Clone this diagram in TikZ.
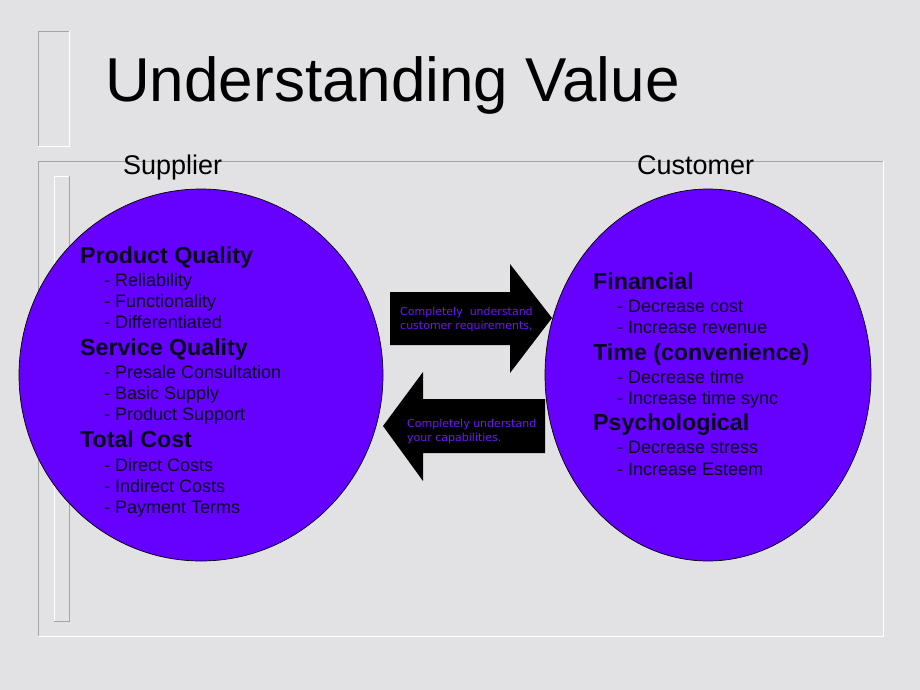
\documentclass[tikz,border=0pt]{standalone}
\usepackage{fontspec}
\setmainfont{Liberation Sans}
\newfontfamily\notefont{DejaVu Sans}
\usetikzlibrary{shapes.geometric}
\definecolor{marble}{RGB}{226,226,228}
\definecolor{edgegrey}{RGB}{165,165,165}
\definecolor{bubblefill}{RGB}{102,0,255}
\definecolor{bubbletext}{RGB}{8,0,30}
\definecolor{notetext}{RGB}{110,20,255}
\tikzset{
  bubble/.style={ellipse, draw=black, fill=bubblefill, line width=0.7pt, inner sep=0pt},
  heading/.style={anchor=base west, inner sep=0pt, text=bubbletext, font=\fontsize{23.2}{23.2}\selectfont\bfseries},
  item/.style={anchor=base west, inner sep=0pt, text=bubbletext, font=\fontsize{18}{18}\selectfont},
  side/.style={anchor=base west, inner sep=0pt, font=\fontsize{27}{27}\selectfont},
  note/.style={anchor=base west, inner sep=0pt, text=notetext, font=\notefont\fontsize{11}{11}\selectfont},
}
\begin{document}
\begin{tikzpicture}[x=1pt, y=-1pt, line join=miter]
  \fill[marble] (0,0) rectangle (920,690);
  \useasboundingbox (0,0) rectangle (920,690);
  % sunken frames
  \draw[edgegrey] (38,146) -- (38,31) -- (69,31);
  \draw[white] (69,31) -- (69,146) -- (38,146);
  \draw[edgegrey] (38,636) -- (38,161) -- (883,161);
  \draw[white] (883,161) -- (883,636) -- (38,636);
  \draw[white] (54,621) -- (54,176) -- (69,176);
  \draw[edgegrey] (69,176) -- (69,621) -- (54,621);
  % title
  \node[anchor=base west, inner sep=0pt, font=\fontsize{62}{62}\selectfont] (title) at (105,102) {Understanding Value};
  \node[side] (supplierlabel) at (123,174) {Supplier};
  \node[side] (customerlabel) at (637,174) {Customer};
  % circles
  \node[bubble, minimum width=364pt, minimum height=372pt] (supplier) at (201,375) {};
  \node[bubble, minimum width=326pt, minimum height=372pt] (customer) at (708,375) {};
  % supplier side
  \foreach \y/\t in {263/Product Quality, 355/Service Quality, 447/Total Cost}
    \node[heading] (sh\y) at (80,\y) {\t};
  \foreach \y/\t in {286/- Reliability, 307/- Functionality, 328/- Differentiated,
                     378/- Presale Consultation, 399/- Basic Supply, 420/- Product Support,
                     471/- Direct Costs, 492/- Indirect Costs, 513/- Payment Terms}
    \node[item] (si\y) at (104,\y) {\t};
  % customer side
  \foreach \y/\t in {289/Financial, 360/Time (convenience), 430/Psychological}
    \node[heading] (ch\y) at (593,\y) {\t};
  \foreach \y/\t in {312/- Decrease cost, 333/- Increase revenue,
                     383/- Decrease time, 404/- Increase time sync,
                     453/- Decrease stress, 475/- Increase Esteem}
    \node[item] (ci\y) at (617,\y) {\t};
  % arrows
  \fill[black] (390,292) -- (510,292) -- (510,264) -- (552,318) -- (510,373) -- (510,345) -- (390,345) -- cycle;
  \fill[black] (545,399) -- (423,399) -- (423,372) -- (383,426) -- (423,481) -- (423,453) -- (545,453) -- cycle;
  \node[note] (toa) at (400,315) {Completely\ \ understand};
  \node[note] (tob) at (400,329) {customer requirements,};
  \node[note] (froma) at (407,427) {Completely understand};
  \node[note] (fromb) at (407,441) {your capabilities.};
\end{tikzpicture}
\end{document}
